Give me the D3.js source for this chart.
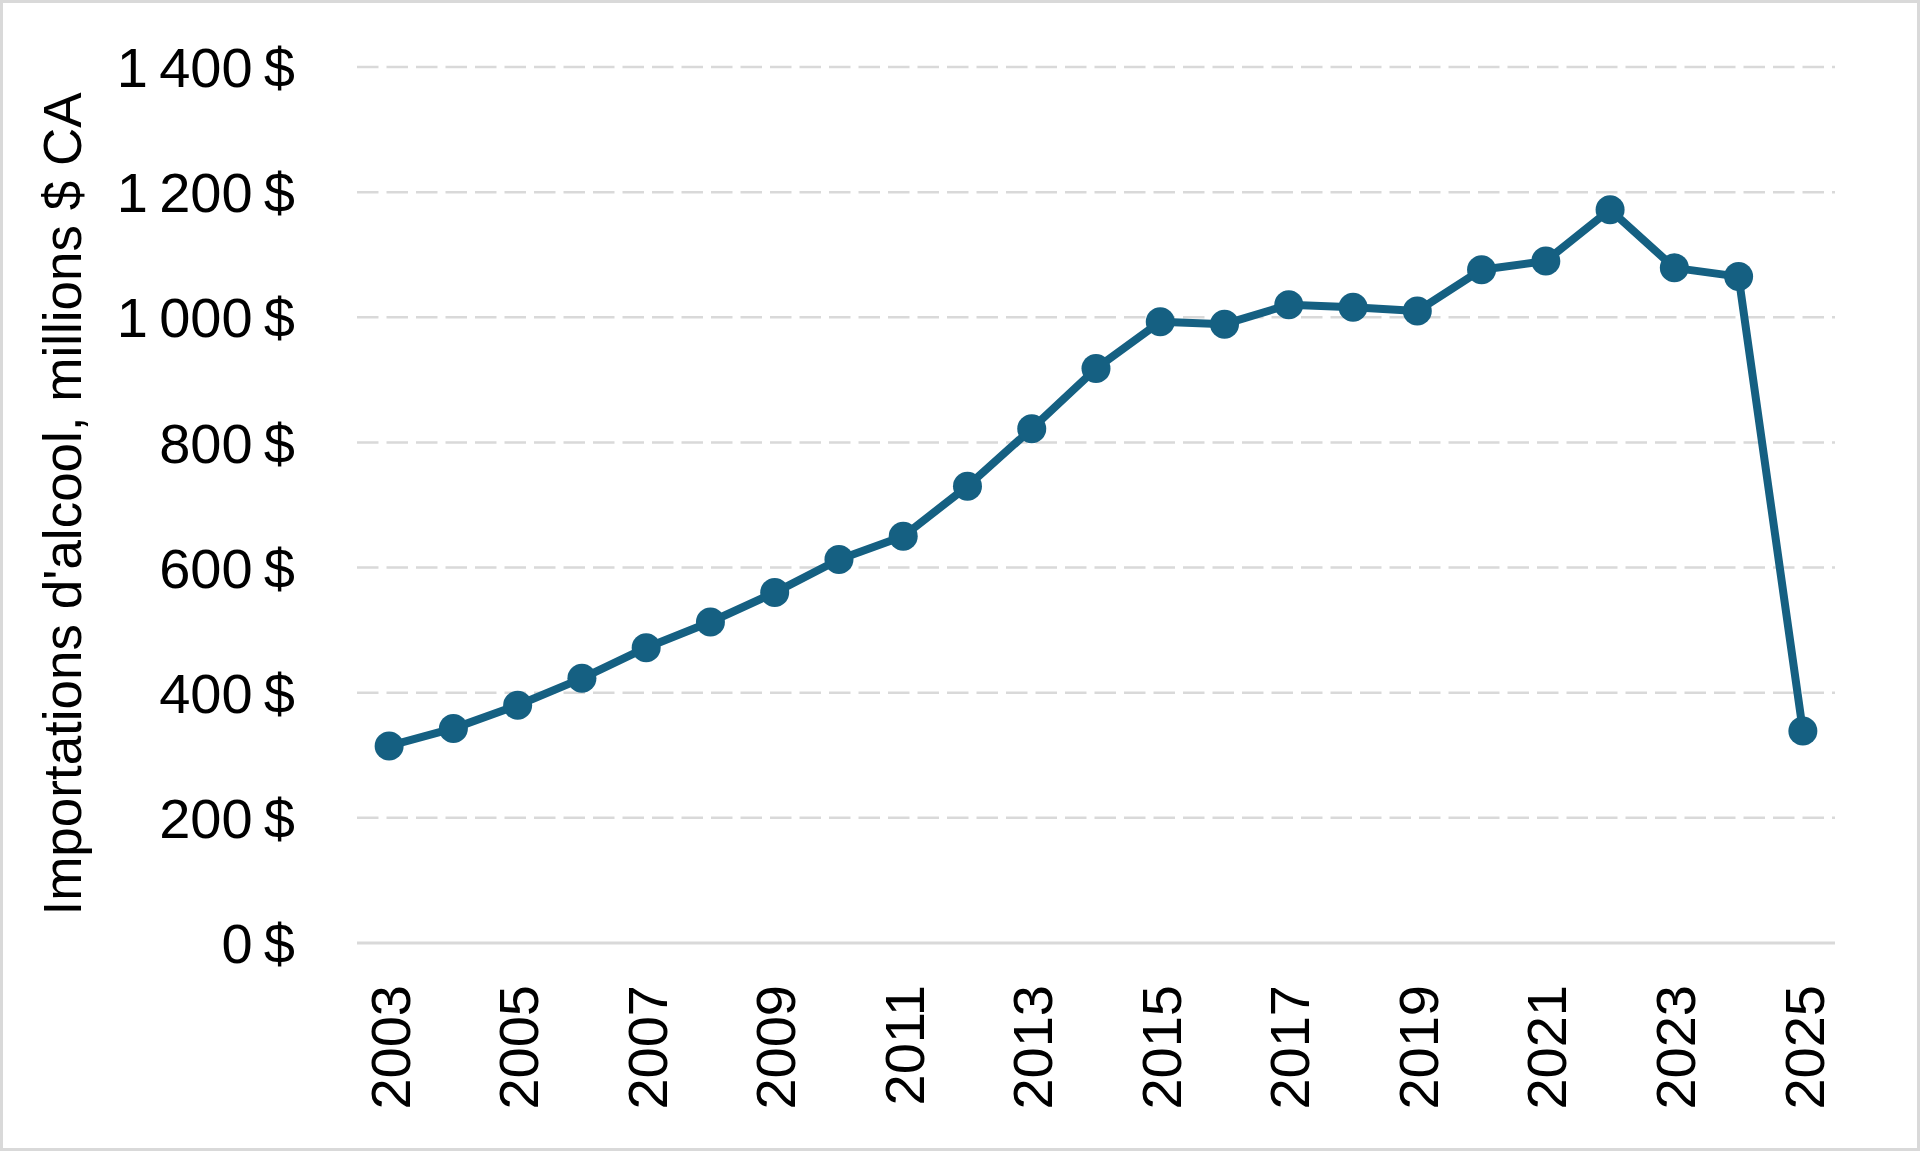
<!DOCTYPE html>
<html>
<head>
<meta charset="utf-8">
<script src="https://cdn.jsdelivr.net/npm/d3@7"></script>
<style>
  html, body { margin: 0; padding: 0; background: #fff; }
  svg { display: block; }
  text { font-family: "Liberation Sans", Arial, sans-serif; fill: #000; }
</style>
</head>
<body>
<svg id="chart" width="1920" height="1151"></svg>
<script>
const years = ["2003","2004","2005","2006","2007","2008","2009","2010","2011","2012","2013","2014","2015","2016","2017","2018","2019","2020","2021","2022","2023","2024","2025"];
const imports = [315, 343, 380, 423, 472, 513, 560, 613, 650, 730, 822, 918, 993, 989, 1020, 1016, 1010, 1076, 1090, 1172, 1079, 1065, 339];
const yTickValues = [0, 200, 400, 600, 800, 1000, 1200, 1400];
const yTickLabels = ["0\u2009$", "200\u2009$", "400\u2009$", "600\u2009$", "800\u2009$", "1\u2009000\u2009$", "1\u2009200\u2009$", "1\u2009400\u2009$"];
const xTickLabels = ["2003","2005","2007","2009","2011","2013","2015","2017","2019","2021","2023","2025"];
const yTitle = "Importations d'alcool, millions $ CA";

const W = 1920, H = 1151;
const svg = d3.select("#chart");
const color = "#156082";

svg.append("rect").attr("x", 1.5).attr("y", 1.5).attr("width", W - 3).attr("height", H - 3)
  .attr("fill", "#fff").attr("stroke", "#d9d9d9").attr("stroke-width", 3);

const plotLeft = 357, plotRight = 1835, plotTop = 67, plotBottom = 943;

const x = d3.scalePoint().domain(years).range([plotLeft, plotRight]).padding(0.5);
const y = d3.scaleLinear().domain([0, 1400]).range([plotBottom, plotTop]);

// gridlines
const grid = svg.append("g");
yTickValues.forEach(v => {
  grid.append("line")
    .attr("x1", plotLeft).attr("x2", plotRight)
    .attr("y1", y(v)).attr("y2", y(v))
    .attr("stroke", "#d9d9d9")
    .attr("stroke-width", v === 0 ? 3 : 2.5)
    .attr("stroke-dasharray", v === 0 ? null : "21.5,8");
});

// y axis labels
const yAxis = d3.axisLeft(y).tickValues(yTickValues)
  .tickFormat((d, i) => yTickLabels[i]).tickSize(0).tickPadding(0);
const yg = svg.append("g").attr("transform", "translate(295,0)").call(yAxis);
yg.select(".domain").remove();
yg.selectAll("text").style("font-family", '"Liberation Sans", Arial, sans-serif')
  .style("font-size", "56px").attr("fill", "#000").attr("dy", "0.35em");

// x axis labels
const xAxis = d3.axisBottom(x).tickValues(xTickLabels).tickSize(0).tickPadding(0);
const xg = svg.append("g").attr("transform", "translate(0,985)").call(xAxis);
xg.select(".domain").remove();
xg.selectAll("text")
  .style("font-family", '"Liberation Sans", Arial, sans-serif')
  .style("font-size", "56px").attr("fill", "#000")
  .attr("text-anchor", "end")
  .attr("transform", "rotate(-90)")
  .attr("x", 0).attr("y", 0).attr("dy", "0.36em");

// y title
svg.append("text")
  .attr("transform", "translate(81,504) rotate(-90)")
  .attr("text-anchor", "middle")
  .style("font-size", "53px")
  .text(yTitle);

// line
const line = d3.line().x((d, i) => x(years[i])).y(d => y(d));
svg.append("path").datum(imports)
  .attr("d", line).attr("fill", "none")
  .attr("stroke", color).attr("stroke-width", 8).attr("stroke-linejoin", "round");

svg.append("g").selectAll("circle").data(imports).join("circle")
  .attr("cx", (d, i) => x(years[i])).attr("cy", d => y(d))
  .attr("r", 14.5).attr("fill", color);
</script>
</body>
</html>
